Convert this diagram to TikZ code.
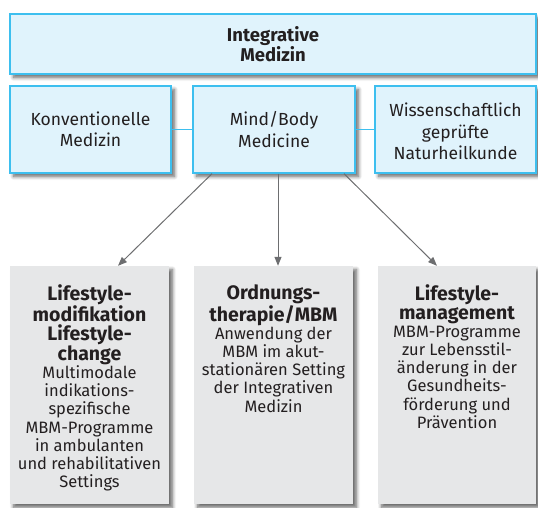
\documentclass[tikz,border=0pt]{standalone}
\usepackage{fontspec}
\setmainfont{Fira Sans}
\usetikzlibrary{shadows.blur,arrows.meta}
\definecolor{boxblue}{HTML}{E0F3FC}
\definecolor{edgeblue}{HTML}{3DBFEF}
\definecolor{boxgray}{HTML}{E6E7E8}
\definecolor{arrowgray}{HTML}{6D6E70}
\definecolor{textdark}{HTML}{231F20}
% bold headline line inside a gray box
\newcommand\hdline[1]{{\fontsize{19.5}{18.6}\selectfont\bfseries #1}}
\begin{document}
\begin{tikzpicture}[x=1pt,y=-1pt,
  softshadow/.style={blur shadow={shadow xshift=3.5pt,shadow yshift=-3.5pt,
    shadow blur radius=3.5pt,shadow blur steps=8,shadow opacity=60}},
  bluebox/.style={draw=edgeblue,line width=1.3pt,fill=boxblue,inner sep=0pt,softshadow},
  graybox/.style={fill=boxgray,inner sep=0pt,softshadow},
  tlabel/.style={align=center,text=textdark,font=\fontsize{17.5}{21.5}\selectfont},
  blabel/.style={align=center,text=textdark,anchor=north,inner sep=0pt,
    font=\fontsize{16.5}{18.2}\selectfont},
  link/.style={edgeblue,line width=1.3pt},
  flow/.style={arrowgray,line width=1pt,-{Triangle[length=9pt,width=7pt]}}]
\useasboundingbox (0,0) rectangle (538,507);

% top level
\node[bluebox,minimum width=526pt,minimum height=60pt] (im) at (273,44) {};
\node[tlabel,font=\fontsize{18.5}{20.5}\selectfont\bfseries] (imt) at (im.center) {Integrative\\Medizin};

% second level
\node[bluebox,minimum width=161pt,minimum height=87pt] (km) at (90.5,129.5) {};
\node[bluebox,minimum width=162pt,minimum height=87pt] (mb) at (274,129.5) {};
\node[bluebox,minimum width=161pt,minimum height=87pt] (nh) at (455.5,129.5) {};
\node[tlabel] (kmt) at (km.center) {Konventionelle\\Medizin};
\node[tlabel] (mbt) at (mb.center) {Mind/Body\\Medicine};
\node[tlabel] (nht) at ([yshift=-2pt]nh.center) {Wissenschaftlich\\geprüfte\\Naturheilkunde};
\draw[link] (km.east) -- (mb.west);
\draw[link] (mb.east) -- (nh.west);

% third level
\node[graybox,minimum width=159pt,minimum height=238pt] (lm) at (89.5,385) {};
\node[graybox,minimum width=159pt,minimum height=238pt] (ot) at (273.5,385) {};
\node[graybox,minimum width=158pt,minimum height=238pt] (ls) at (457,385) {};

\node[blabel] (lmt) at ([yshift=-19pt]lm.north) {\hdline{Lifestyle-}\\\hdline{modifikation}\\\hdline{Lifestyle-}\\\hdline{change}\\
  Multimodale\\indikations-\\spezifische\\MBM-Programme\\in ambulanten\\und rehabilitativen\\Settings};
\node[blabel] (ott) at ([yshift=-19pt]ot.north) {\hdline{Ordnungs-}\\\hdline{therapie/MBM}\\
  Anwendung der\\MBM im akut-\\stationären Setting\\der Integrativen\\Medizin};
\node[blabel] (lst) at ([yshift=-19pt]ls.north) {\hdline{Lifestyle-}\\\hdline{management}\\
  MBM-Programme\\zur Lebensstil-\\änderung in der\\Gesundheits-\\förderung und\\Prävention};

% arrows
\draw[flow] ([xshift=-62pt]mb.south) -- ([xshift=28.5pt]lm.north);
\draw[flow] ([xshift=4pt]mb.south) -- ([xshift=4.5pt]ot.north);
\draw[flow] ([xshift=70pt]mb.south) -- ([xshift=-20pt]ls.north);
\end{tikzpicture}
\end{document}
